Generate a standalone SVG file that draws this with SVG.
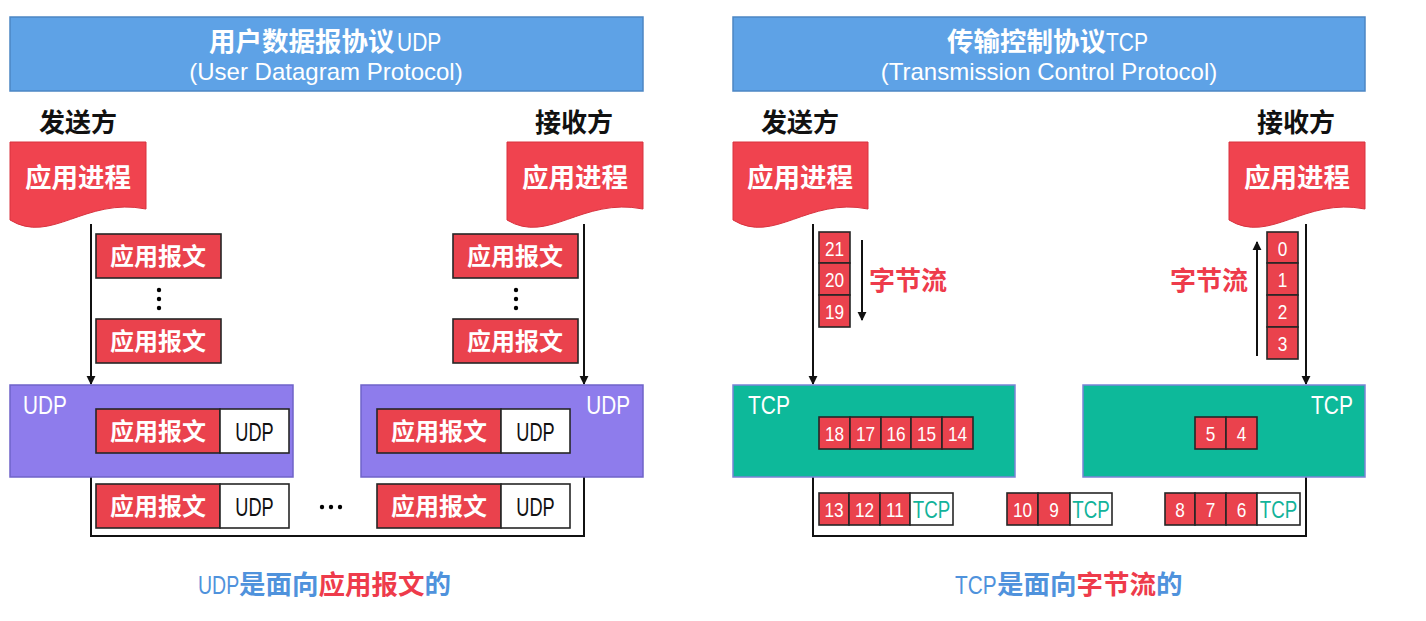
<svg xmlns="http://www.w3.org/2000/svg" width="1426" height="621" viewBox="0 0 1426 621">
<style>
.bg{fill:#fff}
.hdr{fill:#5ea2e6;stroke:#4c86c4;stroke-width:1.5}
.doc{fill:#f0434f;stroke:#d8323e;stroke-width:1}
.red{fill:#ea424d;stroke:#262626;stroke-width:1.6}
.wt{fill:#fff;stroke:#262626;stroke-width:1.6}
.udp{fill:#8e7cec;stroke:#6f63c9;stroke-width:1.5}
.tcp{fill:#0db99a;stroke:#7a84d6;stroke-width:1.5}
.ln{fill:none;stroke:#111;stroke-width:2}
.cjk{font-family:"Noto Sans CJK SC","Liberation Sans",sans-serif;font-weight:bold}
.lat{font-family:"Liberation Sans","Noto Sans CJK SC",sans-serif}
.w{fill:#fff}
.k{fill:#111}
.c{text-anchor:middle}
.num{font-family:"Liberation Sans",sans-serif;font-size:21px;fill:#fff;text-anchor:middle}
.tl{font-family:"Liberation Sans",sans-serif;font-size:24px;fill:#12b39a;text-anchor:middle}
.ul{font-family:"Liberation Sans",sans-serif;font-size:26px;fill:#111;text-anchor:middle}
.rt{fill:#ee3b4b}
.bl{fill:#4f92dc}
</style>
<defs>
<marker id="ah" viewBox="0 0 10 10" refX="9" refY="5" markerWidth="9" markerHeight="10" markerUnits="userSpaceOnUse" orient="auto">
<path d="M0,0 L10,5 L0,10 Z" fill="#111"/>
</marker>
</defs>
<rect class="bg" width="1426" height="621"/>

<!-- UDP side -->
<g id="udp-header">
<rect class="hdr" x="10" y="17" width="633" height="74"/>
<text class="cjk w" x="209" y="51" font-size="26.5">用户数据报协议</text>
<text class="lat w" transform="translate(397,51) scale(0.84,1)" font-size="25">UDP</text>
<text class="lat c w" x="326" y="80" font-size="24">(User Datagram Protocol)</text>
</g>
<g id="udp-sender-label"><text class="cjk k c" x="78" y="132" font-size="26">发送方</text></g>
<g id="udp-receiver-label"><text class="cjk k c" x="574" y="132" font-size="26">接收方</text></g>
<g id="udp-sender-app">
<path class="doc" d="M10,142 H146 V209 C85,197 51,245 10,220 Z"/>
<text class="cjk w c" x="78" y="187" font-size="26.5">应用进程</text>
</g>
<g id="udp-receiver-app">
<path class="doc" d="M507,142 H643 V209 C582,197 548,245 507,220 Z"/>
<text class="cjk w c" x="575" y="187" font-size="26.5">应用进程</text>
</g>

<g id="udp-connectors">
<line class="ln" x1="91" y1="224" x2="91" y2="384" marker-end="url(#ah)"/>
<line class="ln" x1="584" y1="224" x2="584" y2="384" marker-end="url(#ah)"/>
<polyline class="ln" points="91,477 91,536 584,536 584,477"/>
</g>

<g id="udp-s-msg1"><rect class="red" x="96" y="234" width="125" height="44"/><text class="cjk w c" x="158" y="265" font-size="24">应用报文</text></g>
<g id="udp-s-dots"><circle cx="159" cy="290" r="2.2"/><circle cx="159" cy="299" r="2.2"/><circle cx="159" cy="308" r="2.2"/></g>
<g id="udp-s-msg2"><rect class="red" x="96" y="319" width="125" height="44"/><text class="cjk w c" x="158" y="350" font-size="24">应用报文</text></g>
<g id="udp-r-msg1"><rect class="red" x="453" y="234" width="125" height="44"/><text class="cjk w c" x="515" y="265" font-size="24">应用报文</text></g>
<g id="udp-r-dots"><circle cx="516" cy="290" r="2.2"/><circle cx="516" cy="299" r="2.2"/><circle cx="516" cy="308" r="2.2"/></g>
<g id="udp-r-msg2"><rect class="red" x="453" y="319" width="125" height="44"/><text class="cjk w c" x="515" y="350" font-size="24">应用报文</text></g>

<g id="udp-sender-box">
<rect class="udp" x="10" y="385" width="283" height="92"/>
<text class="lat w" transform="translate(23,414) scale(0.83,1)" font-size="25">UDP</text>
<rect class="red" x="96" y="409" width="124" height="44"/><text class="cjk w c" x="158" y="440" font-size="24">应用报文</text>
<rect class="wt" x="220" y="409" width="69" height="44"/><text class="ul" transform="translate(254.5,440.5) scale(0.7,1)">UDP</text>
</g>
<g id="udp-receiver-box">
<rect class="udp" x="361" y="385" width="282" height="92"/>
<text class="lat w" transform="translate(630,414) scale(0.83,1)" font-size="25" text-anchor="end">UDP</text>
<rect class="red" x="377" y="409" width="124" height="44"/><text class="cjk w c" x="439" y="440" font-size="24">应用报文</text>
<rect class="wt" x="501" y="409" width="69" height="44"/><text class="ul" transform="translate(535.5,440.5) scale(0.7,1)">UDP</text>
</g>
<g id="udp-packet-1">
<rect class="red" x="96" y="484" width="124" height="44"/><text class="cjk w c" x="158" y="515" font-size="24">应用报文</text>
<rect class="wt" x="220" y="484" width="69" height="44"/><text class="ul" transform="translate(254.5,515.5) scale(0.7,1)">UDP</text>
</g>
<g id="udp-ellipsis"><circle cx="322" cy="507" r="2.2"/><circle cx="331" cy="507" r="2.2"/><circle cx="340" cy="507" r="2.2"/></g>
<g id="udp-packet-2">
<rect class="red" x="377" y="484" width="124" height="44"/><text class="cjk w c" x="439" y="515" font-size="24">应用报文</text>
<rect class="wt" x="501" y="484" width="69" height="44"/><text class="ul" transform="translate(535.5,515.5) scale(0.7,1)">UDP</text>
</g>
<g id="udp-caption">
<text class="lat bl" transform="translate(198,594) scale(0.75,1)" font-size="26">UDP</text>
<text class="cjk" x="239" y="594" font-size="26.5"><tspan class="bl">是面向</tspan><tspan class="rt">应用报文</tspan><tspan class="bl">的</tspan></text>
</g>

<!-- TCP side -->
<g id="tcp-header">
<rect class="hdr" x="733" y="17" width="632" height="74"/>
<text class="cjk w" x="947" y="51" font-size="26.5">传输控制协议</text>
<text class="lat w" transform="translate(1106,51) scale(0.84,1)" font-size="25">TCP</text>
<text class="lat c w" x="1049" y="80" font-size="24">(Transmission Control Protocol)</text>
</g>
<g id="tcp-sender-label"><text class="cjk k c" x="800" y="132" font-size="26">发送方</text></g>
<g id="tcp-receiver-label"><text class="cjk k c" x="1296" y="132" font-size="26">接收方</text></g>
<g id="tcp-sender-app">
<path class="doc" d="M733,142 H868 V209 C808,197 774,245 733,220 Z"/>
<text class="cjk w c" x="800" y="187" font-size="26.5">应用进程</text>
</g>
<g id="tcp-receiver-app">
<path class="doc" d="M1229,142 H1365 V209 C1304,197 1270,245 1229,220 Z"/>
<text class="cjk w c" x="1297" y="187" font-size="26.5">应用进程</text>
</g>

<g id="tcp-connectors">
<line class="ln" x1="813" y1="224" x2="813" y2="384" marker-end="url(#ah)"/>
<line class="ln" x1="1306" y1="224" x2="1306" y2="384" marker-end="url(#ah)"/>
<polyline class="ln" points="813,477 813,536 1306,536 1306,477"/>
<line class="ln" x1="862" y1="240" x2="862" y2="320" marker-end="url(#ah)"/>
<line class="ln" x1="1257" y1="356" x2="1257" y2="242" marker-end="url(#ah)"/>
</g>

<g id="tcp-sender-stream">
<rect class="red" x="819" y="232" width="31" height="31"/><text class="num" transform="translate(834.5,255.5) scale(0.82,1)">21</text>
<rect class="red" x="819" y="263" width="31" height="32"/><text class="num" transform="translate(834.5,287) scale(0.82,1)">20</text>
<rect class="red" x="819" y="295" width="31" height="32"/><text class="num" transform="translate(834.5,319) scale(0.82,1)">19</text>
<text class="cjk rt" x="869" y="290" font-size="26">字节流</text>
</g>
<g id="tcp-receiver-stream">
<rect class="red" x="1267" y="232" width="31" height="31"/><text class="num" transform="translate(1282.5,255.5) scale(0.82,1)">0</text>
<rect class="red" x="1267" y="263" width="31" height="32"/><text class="num" transform="translate(1282.5,287) scale(0.82,1)">1</text>
<rect class="red" x="1267" y="295" width="31" height="32"/><text class="num" transform="translate(1282.5,319) scale(0.82,1)">2</text>
<rect class="red" x="1267" y="327" width="31" height="32"/><text class="num" transform="translate(1282.5,351) scale(0.82,1)">3</text>
<text class="cjk rt" x="1248" y="290" font-size="26" text-anchor="end">字节流</text>
</g>

<g id="tcp-sender-box">
<rect class="tcp" x="733" y="385" width="282" height="92"/>
<text class="lat w" transform="translate(748,414) scale(0.84,1)" font-size="25">TCP</text>
<rect class="red" x="819" y="417" width="31" height="32"/><text class="num" transform="translate(834.5,441) scale(0.82,1)">18</text>
<rect class="red" x="850" y="417" width="31" height="32"/><text class="num" transform="translate(865.5,441) scale(0.82,1)">17</text>
<rect class="red" x="881" y="417" width="30" height="32"/><text class="num" transform="translate(896,441) scale(0.82,1)">16</text>
<rect class="red" x="911" y="417" width="31" height="32"/><text class="num" transform="translate(926.5,441) scale(0.82,1)">15</text>
<rect class="red" x="942" y="417" width="31" height="32"/><text class="num" transform="translate(957.5,441) scale(0.82,1)">14</text>
</g>
<g id="tcp-receiver-box">
<rect class="tcp" x="1083" y="385" width="282" height="92"/>
<text class="lat w" transform="translate(1353,414) scale(0.84,1)" font-size="25" text-anchor="end">TCP</text>
<rect class="red" x="1195" y="417" width="31" height="32"/><text class="num" transform="translate(1210.5,441) scale(0.82,1)">5</text>
<rect class="red" x="1226" y="417" width="31" height="32"/><text class="num" transform="translate(1241.5,441) scale(0.82,1)">4</text>
</g>
<g id="tcp-seg-1">
<rect class="red" x="819" y="493" width="30" height="32"/><text class="num" transform="translate(834,517) scale(0.82,1)">13</text>
<rect class="red" x="849" y="493" width="31" height="32"/><text class="num" transform="translate(864.5,517) scale(0.82,1)">12</text>
<rect class="red" x="880" y="493" width="30" height="32"/><text class="num" transform="translate(895,517) scale(0.82,1)">11</text>
<rect class="wt" x="910" y="493" width="43" height="32"/><text class="tl" transform="translate(931.5,517.5) scale(0.78,1)">TCP</text>
</g>
<g id="tcp-seg-2">
<rect class="red" x="1007" y="493" width="31" height="32"/><text class="num" transform="translate(1022.5,517) scale(0.82,1)">10</text>
<rect class="red" x="1038" y="493" width="32" height="32"/><text class="num" transform="translate(1054,517) scale(0.82,1)">9</text>
<rect class="wt" x="1070" y="493" width="42" height="32"/><text class="tl" transform="translate(1091,517.5) scale(0.78,1)">TCP</text>
</g>
<g id="tcp-seg-3">
<rect class="red" x="1165" y="493" width="30" height="32"/><text class="num" transform="translate(1180,517) scale(0.82,1)">8</text>
<rect class="red" x="1195" y="493" width="31" height="32"/><text class="num" transform="translate(1210.5,517) scale(0.82,1)">7</text>
<rect class="red" x="1226" y="493" width="31" height="32"/><text class="num" transform="translate(1241.5,517) scale(0.82,1)">6</text>
<rect class="wt" x="1257" y="493" width="43" height="32"/><text class="tl" transform="translate(1278.5,517.5) scale(0.78,1)">TCP</text>
</g>
<g id="tcp-caption">
<text class="lat bl" transform="translate(955,594) scale(0.8,1)" font-size="26">TCP</text>
<text class="cjk" x="997" y="594" font-size="26.5"><tspan class="bl">是面向</tspan><tspan class="rt">字节流</tspan><tspan class="bl">的</tspan></text>
</g>
</svg>
